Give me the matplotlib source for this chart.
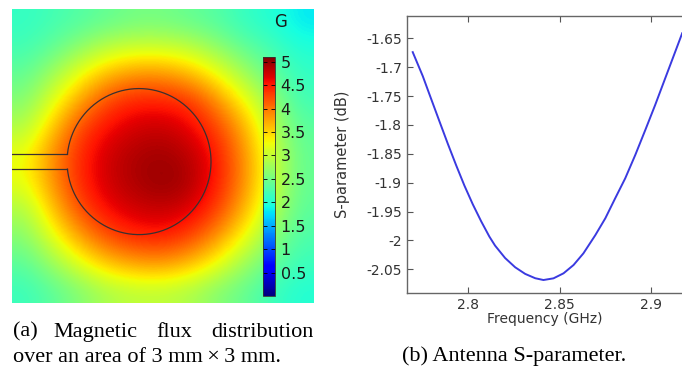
import numpy as np
import matplotlib
matplotlib.use("Agg")
import matplotlib.pyplot as plt

# magnetic flux density (G) on an 11 x 11 grid, top row first
flux = np.array([
    [2.10, 2.20, 2.30, 2.40, 2.50, 2.50, 2.40, 2.30, 2.10, 2.00, 1.80],
    [2.20, 2.40, 2.70, 3.00, 3.10, 3.10, 3.00, 2.70, 2.40, 2.20, 2.00],
    [2.40, 2.80, 3.30, 3.70, 3.90, 3.90, 3.70, 3.30, 2.80, 2.40, 2.10],
    [2.60, 3.20, 3.80, 4.30, 4.50, 4.50, 4.40, 3.90, 3.30, 2.70, 2.20],
    [2.90, 3.60, 4.30, 4.60, 4.75, 4.80, 4.65, 4.30, 3.70, 2.90, 2.35],
    [3.25, 3.90, 4.45, 4.75, 4.90, 4.95, 4.85, 4.50, 3.85, 3.05, 2.40],
    [3.20, 3.85, 4.45, 4.75, 4.90, 5.00, 4.90, 4.50, 3.85, 3.05, 2.40],
    [2.85, 3.60, 4.25, 4.60, 4.75, 4.80, 4.70, 4.30, 3.65, 2.90, 2.35],
    [2.60, 3.20, 3.80, 4.25, 4.45, 4.50, 4.30, 3.85, 3.25, 2.65, 2.25],
    [2.35, 2.75, 3.20, 3.60, 3.80, 3.85, 3.65, 3.25, 2.75, 2.40, 2.15],
    [2.15, 2.35, 2.60, 2.85, 2.95, 2.95, 2.85, 2.60, 2.40, 2.15, 2.00],
])
flux_ticks = [0.5, 1, 1.5, 2, 2.5, 3, 3.5, 4, 4.5, 5]
flux_labels = ["0.5", "1", "1.5", "2", "2.5", "3", "3.5", "4", "4.5", "5"]

# antenna S-parameter curve
freq = [2.7695, 2.7750, 2.7786, 2.7841, 2.7887, 2.7933, 2.7978, 2.8024, 2.8070,
        2.8115, 2.8146, 2.8201, 2.8256, 2.8311, 2.8366, 2.8411, 2.8466, 2.8521,
        2.8576, 2.8630, 2.8695, 2.8750, 2.8804, 2.8859, 2.8914, 2.8969, 2.9023,
        2.9078, 2.9133, 2.9171]
s_param = [-1.674, -1.7155, -1.7465, -1.7935, -1.8325, -1.870, -1.905, -1.9375, -1.967,
           -1.9935, -2.009, -2.0305, -2.0465, -2.058, -2.0655, -2.0686, -2.0657, -2.057,
           -2.0426, -2.0224, -1.991, -1.9617, -1.9271, -1.8925, -1.8521, -1.8088, -1.7655,
           -1.7193, -1.6732, -1.6413]
freq_ticks = [2.8, 2.85, 2.9]
s_ticks = [-2.05, -2.0, -1.95, -1.9, -1.85, -1.8, -1.75, -1.7, -1.65]
s_labels = ["-2.05", "-2", "-1.95", "-1.9", "-1.85", "-1.8", "-1.75", "-1.7", "-1.65"]

W, H = 682, 367
fig = plt.figure(figsize=(W / 100, H / 100), dpi=100)


def box(x0, y0, x1, y1):
    # pixel box (top-left origin) -> figure fraction
    return [x0 / W, 1 - y1 / H, (x1 - x0) / W, (y1 - y0) / H]


# ---- (a) flux map ----
ax1 = fig.add_axes(box(12, 9, 314, 303))
im = ax1.imshow(flux, cmap="jet", vmin=0, vmax=5.1, extent=[0, 3, 3, 0],
                aspect="auto", interpolation="bicubic")
ax1.set_xlim(0, 3)
ax1.set_ylim(3, 0)
ax1.axis("off")

# patch outline: circle with the feed line entering from the left
cx, cy, rx, ry, gap = 1.262, 1.557, 0.715, 0.745, 0.077
a0 = np.arcsin(gap / ry)
t = np.linspace(np.pi + a0, 3 * np.pi - a0, 300)
ax1.plot(cx + rx * np.cos(t), cy + ry * np.sin(t), color="#3a3030", lw=0.9)
xf = cx - rx * np.cos(a0)
ax1.plot([0, xf], [cy - gap, cy - gap], color="#3a3030", lw=0.9)
ax1.plot([0, xf], [cy + gap, cy + gap], color="#3a3030", lw=0.9)

cax = fig.add_axes(box(263, 57, 275, 296))
cb = fig.colorbar(im, cax=cax, ticks=flux_ticks)
cb.ax.set_yticklabels(flux_labels)
cb.outline.set_linewidth(0.6)
cb.outline.set_edgecolor("#333333")
cax.tick_params(direction="in", left=True, right=True, length=3, width=0.6,
                labelsize=11.5, labelcolor="#1a1a1a", pad=4)
fig.text(281 / W, 1 - 22 / H, "G", ha="center", va="center", fontsize=12,
         color="#1a1a1a")

# ---- (b) S-parameter ----
ax2 = fig.add_axes(box(406.7, 15.7, 682, 293.3))
ax2.plot(freq, s_param, color="#3a3ae0", lw=1.4)
ax2.set_xlim(2.7662, 2.917)
ax2.set_ylim(-2.0916, -1.6109)
ax2.set_xticks(freq_ticks)
ax2.set_xticklabels(["2.8", "2.85", "2.9"])
ax2.set_yticks(s_ticks)
ax2.set_yticklabels(s_labels)
ax2.tick_params(direction="in", top=True, length=4, width=0.8, color="#555555",
                labelsize=10, labelcolor="#333333", pad=3.5)
for side in ["left", "bottom", "top"]:
    ax2.spines[side].set_color("#666666")
    ax2.spines[side].set_linewidth(1.0)
ax2.spines["right"].set_visible(False)
ax2.set_xlabel("Frequency (GHz)", fontsize=10, color="#333333")
ax2.set_ylabel("S-parameter (dB)", fontsize=10.5, color="#333333")
ax2.xaxis.set_label_coords(0.5, -0.068)
ax2.yaxis.set_label_coords(-0.206, 0.5)

# ---- captions ----
cap = dict(fontsize=16, family="Liberation Serif", color="black", va="baseline")
fig.text(12.7 / W, 1 - 336.7 / H, "(a)", ha="left", **cap)
fig.text(53.3 / W, 1 - 336.7 / H, "Magnetic", ha="left", **cap)
fig.text(156.7 / W, 1 - 336.7 / H, "flux", ha="left", **cap)
fig.text(313.3 / W, 1 - 336.7 / H, "distribution", ha="right", **cap)
fig.text(12.7 / W, 1 - 361.5 / H, "over an area of 3 mm\u2009\u00d7\u20093 mm.", ha="left", **cap)
fig.text(514 / W, 1 - 361.5 / H, "(b) Antenna S-parameter.", ha="center", **cap)

fig.savefig("out.png", dpi=100)
